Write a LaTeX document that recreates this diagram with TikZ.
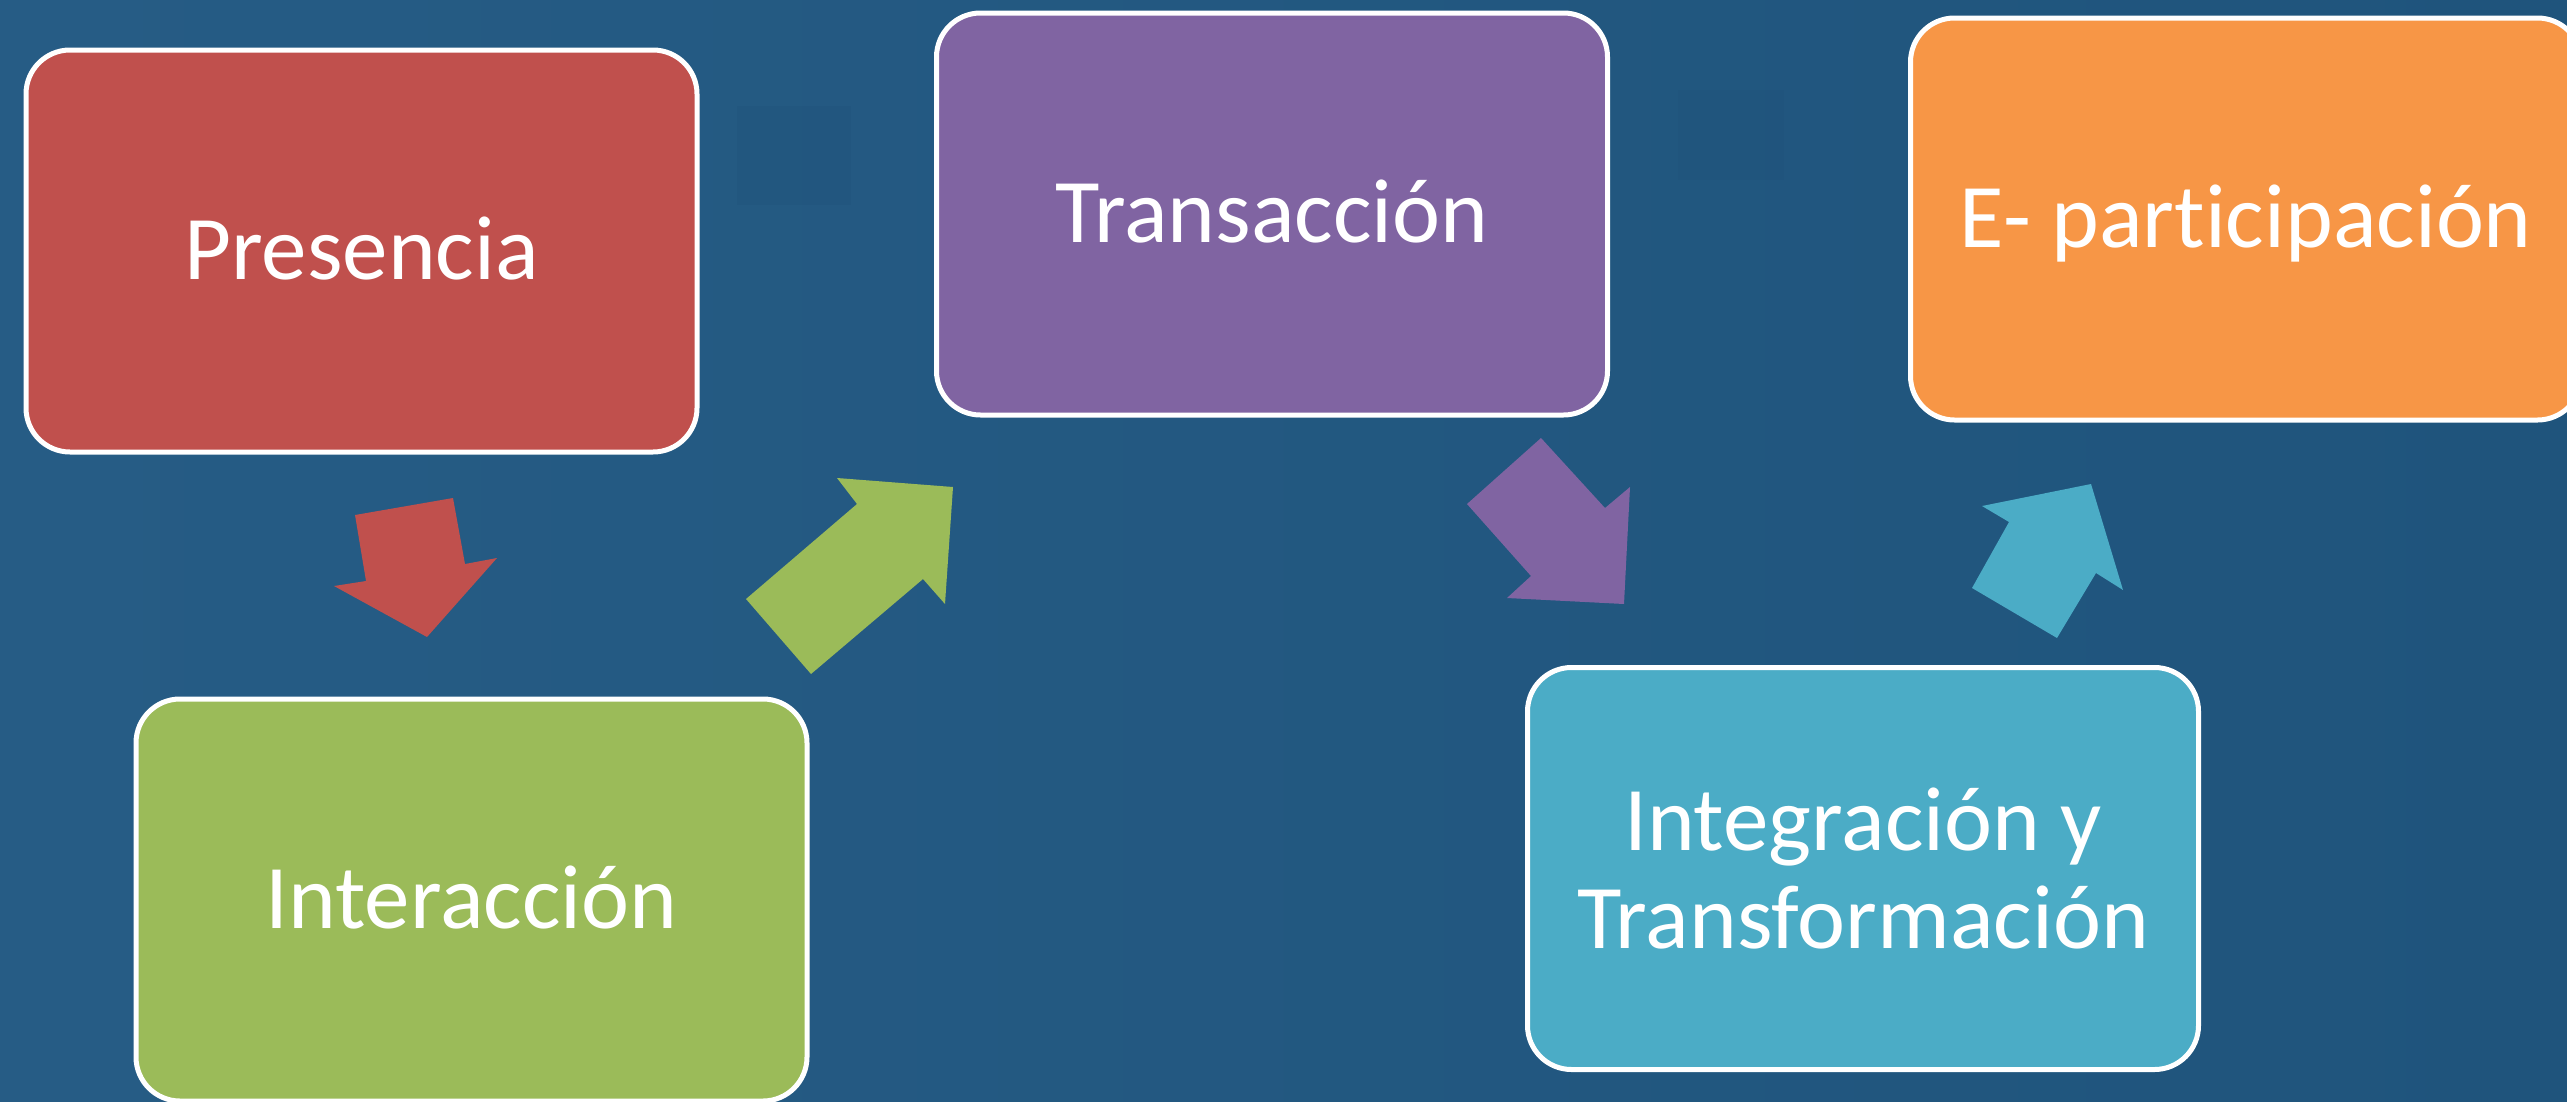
\documentclass[tikz,border=0pt]{standalone}
\usepackage{fontspec}
\setmainfont{Carlito}[Ligatures=NoCommon]
\definecolor{bgA}{RGB}{38,92,133}
\definecolor{bgB}{RGB}{31,84,124}
\definecolor{bgDark}{RGB}{32,82,122}
\definecolor{cRed}{HTML}{C0504D}
\definecolor{cGreen}{HTML}{9BBB59}
\definecolor{cPurple}{HTML}{8064A2}
\definecolor{cCyan}{HTML}{4BACC6}
\definecolor{cOrange}{HTML}{F79646}
\begin{document}
\begin{tikzpicture}[x=1pt,y=-1pt,
  stage/.style={draw=white, line width=5pt, rounded corners=44pt,
    minimum width=671pt, minimum height=402pt, inner sep=0pt,
    text=white, font=\fontsize{91}{98}\selectfont, align=center},
  oneline/.style={text height=80.5pt, text depth=23pt},
  blockarrow/.style={draw=none}]
\useasboundingbox (0,0) rectangle (2567,1101);
\clip (0,0) rectangle (2567,1101);
% background
\shade[left color=bgA, right color=bgB] (0,0) rectangle (2567,1101);
\fill[bgDark, opacity=0.35] (737,106) rectangle (851,205);
\fill[bgDark, opacity=0.35] (1678,90) rectangle (1784,180);

% stages
\node[stage, oneline, fill=cRed]    (pres)  at (361.5,251)  {Presencia};
\node[stage, oneline, fill=cGreen]  (inter) at (471.5,900)  {Interacción};
\node[stage, oneline, fill=cPurple] (trans) at (1272,214)   {Transacción};
\node[stage, fill=cCyan]            (integ) at (1863,868.5) {Integración y\\Transformación};
\node[stage, oneline, fill=cOrange] (epart) at (2246,219)   {E- participación};

% block arrows
\fill[blockarrow, cRed] (355,515) -- (453,498) -- (465,564) -- (497,558) -- (427,637) -- (334,586) -- (366,581) -- cycle;
\fill[blockarrow, cGreen] (746,599) -- (811,674) -- (923,579) -- (945,604) -- (953,487) -- (837,478) -- (857,504) -- cycle;
\fill[blockarrow, cPurple] (1541,438) -- (1605,508) -- (1630,487) -- (1624,604) -- (1507,598) -- (1531,576) -- (1467,504) -- cycle;
\fill[blockarrow, cCyan] (1982,506) -- (2091,484) -- (2123,590) -- (2096,573) -- (2057,638) -- (1972,588) -- (2009,522) -- cycle;
\end{tikzpicture}
\end{document}
